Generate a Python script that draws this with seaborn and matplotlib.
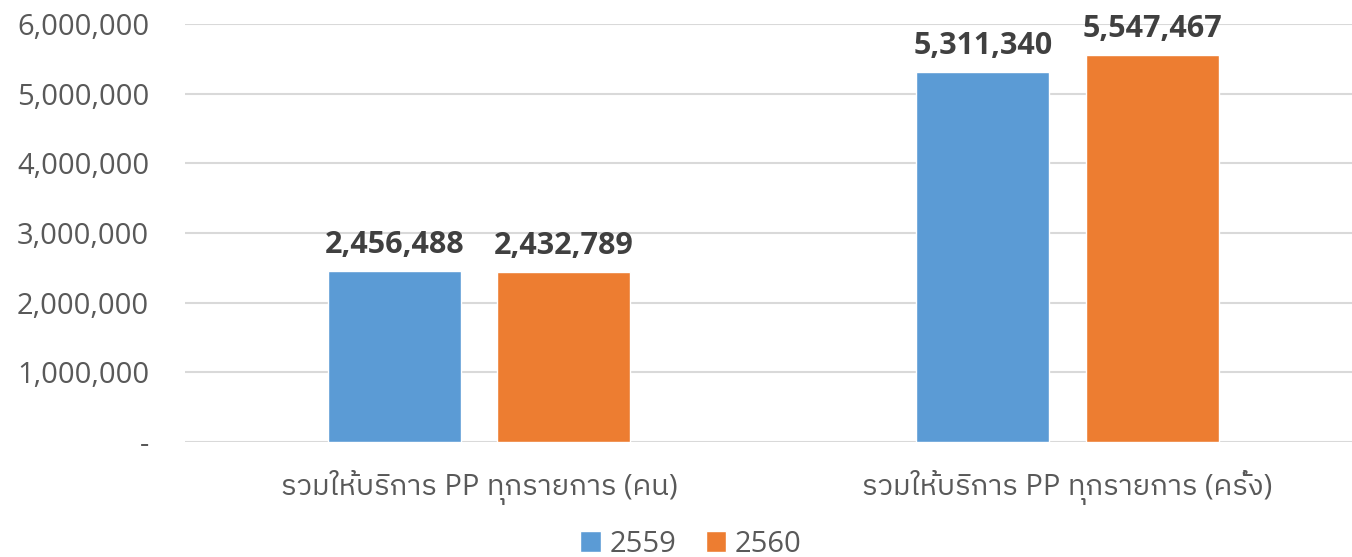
import matplotlib
matplotlib.use("Agg")
import matplotlib.pyplot as plt
from matplotlib import font_manager
from matplotlib.ticker import FuncFormatter
import pandas as pd
import seaborn as sns

# Data
categories = ["รวมให้บริการ PP ทุกรายการ (คน)", "รวมให้บริการ PP ทุกรายการ (ครั้ง)"]
years = ["2559", "2560"]
values_2559 = [2456488, 5311340]
values_2560 = [2432789, 5547467]
colors = ["#5b9bd5", "#ed7d31"]

df = pd.DataFrame({
    "category": categories * 2,
    "year": [years[0]] * 2 + [years[1]] * 2,
    "value": values_2559 + values_2560,
})

sns.set_style("white")

# pick up any installed font that carries Thai glyphs
thai_fonts = sorted({f.name for f in font_manager.fontManager.ttflist if "thai" in f.name.lower()})
plt.rcParams["font.family"] = ["Open Sans"] + thai_fonts + ["DejaVu Sans"]
text_color = "#595959"

fig = plt.figure(figsize=(13.52, 5.57), dpi=100)
ax = fig.add_axes([0.137, 0.2065, 0.87, 0.7505])

sns.barplot(df, x="category", y="value", hue="year", palette=colors,
            width=0.576, gap=0.215, ax=ax, saturation=1)

for cont in ax.containers:
    ax.bar_label(cont, labels=[f"{v:,.0f}" for v in cont.datavalues], padding=8,
                 fontsize=22, fontweight="bold", color="#404040")

ax.set_ylim(0, 6000000)
ax.set_xlim(-0.5, 1.5)
ax.set_yticks(range(0, 6000001, 1000000))
ax.yaxis.set_major_formatter(FuncFormatter(lambda v, p: "-" if v == 0 else f"{v:,.0f}"))
ax.grid(axis="y", color="#d9d9d9", linewidth=1.5)
ax.set_axisbelow(True)
sns.despine(ax=ax, left=True, bottom=True)
ax.tick_params(axis="both", length=0, labelsize=21, labelcolor=text_color)
ax.tick_params(axis="y", pad=26)
ax.tick_params(axis="x", pad=20)
ax.set_xlabel("")
ax.set_ylabel("")

leg = ax.legend(loc="center", bbox_to_anchor=(0.43, -0.245), ncol=2, frameon=False,
                fontsize=21, handlelength=0.7, handleheight=0.7, handletextpad=0.3,
                columnspacing=1.0, labelcolor=text_color)

fig.savefig("out.png", dpi=100)
